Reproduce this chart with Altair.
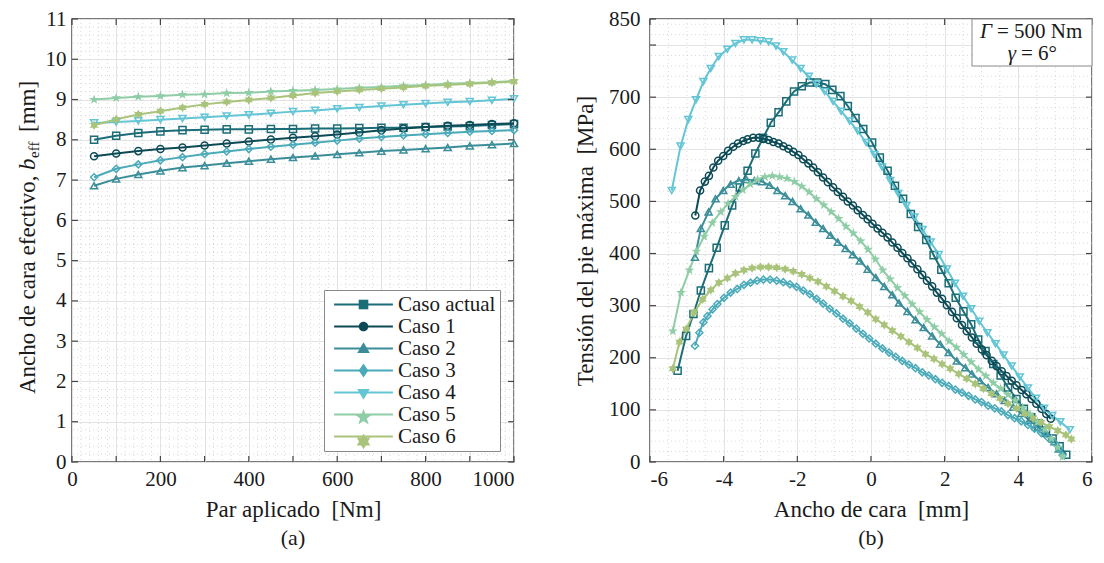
import altair as alt
import pandas as pd

FONT = "Liberation Serif"
FS = 21        # tick labels
FT = 23        # axis titles
FL = 21        # legend labels
FC = 22        # captions
TXT = "#1a1a1a"

CASES = ["Caso actual", "Caso 1", "Caso 2", "Caso 3", "Caso 4", "Caso 5", "Caso 6"]
COLORS = ["#1b6d78", "#0c4b56", "#3b8e99", "#4aaab9", "#63c5d5", "#8ecda6", "#a9c47a"]

# ---------------- panel (a) data ----------------
par = [50, 100, 150, 200, 250, 300, 350, 400, 450, 500, 550, 600, 650, 700, 750, 800, 850, 900, 950, 1000]
beff_actual = [8.00, 8.10, 8.17, 8.21, 8.24, 8.25, 8.26, 8.26, 8.27, 8.27, 8.28, 8.28, 8.29, 8.30, 8.30, 8.32, 8.33, 8.34, 8.37, 8.39]
beff_c1 = [7.59, 7.66, 7.72, 7.77, 7.81, 7.86, 7.91, 7.96, 8.01, 8.05, 8.09, 8.13, 8.18, 8.24, 8.28, 8.32, 8.35, 8.37, 8.39, 8.41]
beff_c2 = [6.86, 7.03, 7.14, 7.23, 7.31, 7.36, 7.42, 7.47, 7.52, 7.56, 7.60, 7.64, 7.68, 7.72, 7.75, 7.78, 7.81, 7.85, 7.88, 7.91]
beff_c3 = [7.07, 7.28, 7.39, 7.49, 7.57, 7.65, 7.71, 7.77, 7.83, 7.88, 7.93, 7.98, 8.03, 8.07, 8.11, 8.14, 8.17, 8.20, 8.22, 8.24]
beff_c4 = [8.42, 8.44, 8.47, 8.50, 8.53, 8.56, 8.59, 8.62, 8.66, 8.70, 8.73, 8.77, 8.80, 8.84, 8.87, 8.90, 8.93, 8.95, 8.98, 9.02]
beff_c5 = [9.00, 9.04, 9.07, 9.09, 9.12, 9.13, 9.16, 9.17, 9.20, 9.22, 9.24, 9.26, 9.29, 9.31, 9.34, 9.36, 9.39, 9.41, 9.43, 9.46]
beff_c6 = [8.36, 8.51, 8.63, 8.71, 8.80, 8.88, 8.94, 8.99, 9.04, 9.10, 9.16, 9.20, 9.24, 9.27, 9.30, 9.34, 9.36, 9.39, 9.42, 9.45]

# ---------------- panel (b) data ----------------
ancho_actual = [-5.25, -5.02, -4.82, -4.62, -4.40, -4.19, -3.97, -3.77, -3.56, -3.35, -3.14, -2.93, -2.72, -2.51, -2.30,
                -2.09, -1.88, -1.66, -1.46, -1.24, -1.05, -0.83, -0.63, -0.42, -0.21, 0.03, 0.24, 0.45, 0.65, 0.87,
                1.08, 1.28, 1.50, 1.70, 1.91, 2.11, 2.30, 2.51, 2.72, 2.91, 3.11, 3.32, 3.52, 3.72, 3.95,
                4.15, 4.35, 4.55, 4.75, 4.93, 5.12, 5.30]
sigma_actual = [175, 242, 284, 329, 372, 411, 454, 492, 527, 559, 592, 622, 651, 671, 692,
                711, 721, 728, 728, 725, 714, 702, 683, 660, 639, 613, 584, 559, 530, 505,
                476, 451, 426, 397, 369, 343, 315, 289, 264, 235, 213, 188, 166, 143, 121,
                102, 86, 74, 60, 45, 30, 14]

ancho_c1 = [-4.77, -4.64, -4.51, -4.40, -4.28, -4.15, -4.01, -3.88, -3.74, -3.61, -3.47, -3.35, -3.20, -3.05, -2.92,
            -2.78, -2.65, -2.51, -2.38, -2.24, -2.11, -1.97, -1.84, -1.70, -1.57, -1.44, -1.30, -1.17, -1.03, -0.90,
            -0.76, -0.63, -0.49, -0.36, -0.22, -0.09, 0.04, 0.18, 0.31, 0.45, 0.58, 0.72, 0.85, 0.99, 1.12,
            1.26, 1.39, 1.52, 1.66, 1.79, 1.93, 2.06, 2.20, 2.33, 2.47, 2.60, 2.74, 2.87, 3.01, 3.14,
            3.28, 3.41, 3.55, 3.68, 3.82, 3.95, 4.09, 4.22, 4.36, 4.49, 4.63, 4.76, 4.88]
sigma_c1 = [473, 521, 538, 549, 565, 578, 587, 597, 605, 611, 616, 619, 622, 622, 620,
            618, 614, 611, 606, 601, 595, 589, 581, 573, 565, 556, 546, 537, 527, 518,
            509, 500, 492, 483, 474, 466, 457, 448, 440, 431, 421, 411, 401, 391, 381,
            370, 359, 348, 337, 325, 313, 301, 288, 276, 263, 251, 239, 227, 216, 205,
            194, 184, 174, 165, 156, 147, 138, 130, 121, 112, 102, 92, 83]

ancho_c2 = [-4.78, -4.62, -4.41, -4.22, -4.01, -3.81, -3.59, -3.38, -3.17, -2.96, -2.75, -2.54, -2.33, -2.13, -1.91,
            -1.70, -1.50, -1.30, -1.10, -0.90, -0.69, -0.49, -0.30, -0.09, 0.13, 0.36, 0.58, 0.76, 0.99, 1.21,
            1.43, 1.66, 1.88, 2.11, 2.33, 2.56, 2.74, 2.96, 3.18, 3.41, 3.63, 3.86, 4.08, 4.30, 4.53,
            4.75, 4.98, 5.10]
sigma_c2 = [393, 448, 480, 505, 521, 533, 540, 542, 540, 538, 531, 521, 511, 500, 486,
            474, 460, 448, 435, 422, 410, 398, 386, 370, 354, 337, 321, 305, 289, 273,
            258, 242, 226, 210, 194, 181, 169, 156, 143, 131, 118, 105, 93, 80, 67,
            55, 39, 25]

ancho_c3 = [-4.78, -4.66, -4.55, -4.44, -4.30, -4.17, -3.99, -3.81, -3.63, -3.45, -3.27, -3.09, -2.92, -2.74, -2.56,
            -2.38, -2.20, -2.02, -1.84, -1.66, -1.48, -1.30, -1.12, -0.94, -0.76, -0.58, -0.40, -0.22, -0.05, 0.13,
            0.31, 0.49, 0.67, 0.85, 1.03, 1.21, 1.39, 1.57, 1.75, 1.93, 2.11, 2.29, 2.47, 2.65, 2.83,
            3.00, 3.18, 3.36, 3.54, 3.72, 3.90, 4.08, 4.26, 4.44, 4.62, 4.80, 4.98, 5.11, 5.20]
sigma_c3 = [223, 248, 268, 280, 293, 303, 315, 325, 332, 340, 344, 348, 350, 350, 348,
            345, 341, 336, 329, 322, 313, 304, 294, 285, 275, 266, 256, 246, 237, 227,
            218, 210, 202, 194, 187, 180, 172, 166, 159, 152, 146, 139, 133, 127, 120,
            115, 108, 103, 97, 90, 84, 78, 71, 64, 56, 47, 37, 25, 13]

ancho_c4 = [-5.41, -5.17, -4.96, -4.75, -4.55, -4.35, -4.13, -3.90, -3.68, -3.45, -3.23, -3.00, -2.78, -2.58, -2.38,
            -2.14, -1.91, -1.69, -1.48, -1.26, -1.03, -0.81, -0.58, -0.36, -0.13, 0.09, 0.30, 0.52, 0.74, 0.96,
            1.18, 1.40, 1.62, 1.84, 2.06, 2.28, 2.50, 2.72, 2.94, 3.16, 3.38, 3.60, 3.82, 4.04, 4.26,
            4.48, 4.70, 4.92, 5.14, 5.40]
sigma_c4 = [521, 606, 657, 695, 730, 755, 778, 792, 803, 810, 810, 808, 806, 798, 787,
            771, 755, 740, 725, 711, 692, 673, 654, 635, 613, 590, 566, 540, 515, 492,
            470, 446, 422, 398, 370, 343, 318, 294, 270, 248, 227, 205, 184, 163, 142,
            122, 103, 89, 77, 62]

ancho_c5 = [-5.38, -5.16, -4.93, -4.74, -4.53, -4.31, -4.08, -3.88, -3.68, -3.48, -3.28, -3.08, -2.88, -2.68, -2.48,
            -2.28, -2.08, -1.88, -1.68, -1.48, -1.28, -1.08, -0.88, -0.68, -0.48, -0.28, -0.08, 0.12, 0.32, 0.52,
            0.72, 0.92, 1.12, 1.32, 1.52, 1.72, 1.92, 2.12, 2.32, 2.52, 2.72, 2.92, 3.12, 3.32, 3.52,
            3.72, 3.92, 4.12, 4.32, 4.52, 4.72, 4.90, 5.07, 5.20]
sigma_c5 = [251, 325, 368, 404, 433, 459, 480, 496, 509, 522, 533, 542, 547, 549, 547,
            544, 538, 529, 518, 505, 493, 480, 467, 452, 439, 424, 408, 389, 368, 351,
            334, 319, 303, 288, 273, 259, 246, 232, 220, 206, 192, 178, 165, 152, 141,
            129, 118, 104, 92, 77, 63, 45, 28, 10]

ancho_c6 = [-5.38, -5.20, -5.02, -4.80, -4.57, -4.35, -4.13, -3.90, -3.68, -3.45, -3.23, -3.00, -2.78, -2.56, -2.33,
            -2.11, -1.88, -1.66, -1.44, -1.21, -0.99, -0.76, -0.54, -0.31, -0.09, 0.13, 0.36, 0.58, 0.81, 1.03,
            1.26, 1.48, 1.71, 1.93, 2.15, 2.38, 2.60, 2.83, 3.05, 3.27, 3.50, 3.72, 3.95, 4.17, 4.40,
            4.62, 4.84, 5.07, 5.29, 5.44]
sigma_c6 = [179, 230, 255, 287, 312, 330, 344, 353, 362, 368, 372, 374, 374, 373, 370,
            366, 360, 353, 346, 337, 328, 318, 309, 298, 287, 274, 263, 252, 241, 230,
            219, 207, 198, 188, 179, 169, 160, 150, 141, 131, 122, 112, 103, 93, 84,
            76, 68, 60, 52, 44]

# axis ticks / labels
a_xticks = [0, 100, 200, 300, 400, 500, 600, 700, 800, 900, 1000]
a_yticks = [0, 1, 2, 3, 4, 5, 6, 7, 8, 9, 10, 11]
b_xticks = [-6, -4, -2, 0, 2, 4, 6]
b_yticks = [0, 100, 200, 300, 400, 500, 600, 700, 800, 850]

W, H = 442, 443

# ---------------- shapes ----------------
PENTA = ("M0,-1.3L0.3,-0.42L1.24,-0.4L0.5,0.16L0.77,1.05L0,0.52L-0.77,1.05L-0.5,0.16"
         "L-1.24,-0.4L-0.3,-0.42Z")
HEXA = ("M0,-1.2L0.35,-0.6L1.04,-0.6L0.69,0L1.04,0.6L0.35,0.6L0,1.2L-0.35,0.6L-1.04,0.6"
        "L-0.69,0L-1.04,-0.6L-0.35,-0.6Z")
MARKERS = ["square", "circle", "triangle-up", "diamond", "triangle-down", PENTA, HEXA]
FILLED = [False, False, False, False, False, True, True]

LEG_LINE = "M-4.9,0H4.9"
LEG_MARKS = [
    "M-0.8,-0.8H0.8V0.8H-0.8Z",
    "M0.8,0A0.8,0.8,0,1,1,-0.8,0A0.8,0.8,0,1,1,0.8,0Z",
    "M0,-1.05L1.05,0.75H-1.05Z",
    "M0,-1.15L0.8,0L0,1.15L-0.8,0Z",
    "M0,1.05L1.05,-0.75H-1.05Z",
    "M0,-1.45L0.34,-0.47L1.38,-0.45L0.56,0.17L0.86,1.17L0,0.58L-0.86,1.17L-0.56,0.17L-1.38,-0.45L-0.34,-0.47Z",
    "M0,-1.3L0.38,-0.65L1.13,-0.65L0.75,0L1.13,0.65L0.38,0.65L0,1.3L-0.38,0.65L-1.13,0.65L-0.75,0L-1.13,-0.65L-0.38,-0.65Z",
]


def long_df(xs_list, ys_list):
    rows = []
    for name, xs, ys in zip(CASES, xs_list, ys_list):
        for i, (xv, yv) in enumerate(zip(xs, ys)):
            rows.append({"Caso": name, "x": xv, "y": yv, "i": i})
    return pd.DataFrame(rows)


df_a = long_df([par] * 7, [beff_actual, beff_c1, beff_c2, beff_c3, beff_c4, beff_c5, beff_c6])
df_b = long_df([ancho_actual, ancho_c1, ancho_c2, ancho_c3, ancho_c4, ancho_c5, ancho_c6],
               [sigma_actual, sigma_c1, sigma_c2, sigma_c3, sigma_c4, sigma_c5, sigma_c6])

one = pd.DataFrame({"k": [0]})

LEG_X, LEG_Y = 252, 271
leg_common = dict(orient="none", legendX=LEG_X, legendY=LEG_Y, title=None,
                  labelFont=FONT, labelFontSize=FL, labelColor=TXT, labelLimit=250,
                  symbolSize=144, symbolStrokeWidth=2, symbolOpacity=1,
                  padding=4, rowPadding=0, symbolOffset=25, labelOffset=24)


def panel(df, X, Y, xticks, yticks, minor_x, minor_y, extra=None, legend=False):
    grid_x = alt.Chart(pd.DataFrame({"x": minor_x})).mark_rule(
        color="#cfcfcf", strokeWidth=0.8, strokeDash=[1, 3]).encode(x=X)
    grid_y = alt.Chart(pd.DataFrame({"y": minor_y})).mark_rule(
        color="#cfcfcf", strokeWidth=0.8, strokeDash=[1, 3]).encode(y=Y)
    base = alt.Chart(df)
    if legend:
        line_legend = alt.Legend(symbolType=LEG_LINE, strokeColor="#8a8a8a", fillColor="white", **leg_common)
    else:
        line_legend = None
    lines = base.mark_line(strokeWidth=2).encode(
        x=X, y=Y,
        color=alt.Color("Caso:N", sort=CASES, scale=alt.Scale(range=COLORS), legend=line_legend),
        detail="Caso:N", order="i:Q")
    layers = [grid_x, grid_y, lines]
    for name, mk, col, fl in zip(CASES, MARKERS, COLORS, FILLED):
        if fl:
            m = base.transform_filter(alt.datum.Caso == name).mark_point(
                shape=mk, filled=True, color=col, size=62, opacity=1)
        else:
            m = base.transform_filter(alt.datum.Caso == name).mark_point(
                shape=mk, filled=False, color=col, size=50, strokeWidth=1.5, opacity=1)
        layers.append(m.encode(x=X, y=Y))
    tx = pd.DataFrame({"x": xticks})
    ty = pd.DataFrame({"y": yticks})
    tk = dict(color="#444", strokeWidth=1.2)
    layers += [
        alt.Chart(tx).mark_rule(**tk).encode(x=X, y=alt.value(H), y2=alt.value(H - 6)),
        alt.Chart(tx).mark_rule(**tk).encode(x=X, y=alt.value(0), y2=alt.value(6)),
        alt.Chart(ty).mark_rule(**tk).encode(y=Y, x=alt.value(0), x2=alt.value(6)),
        alt.Chart(ty).mark_rule(**tk).encode(y=Y, x=alt.value(W), x2=alt.value(W - 6)),
    ]
    if legend:
        mark_legend = alt.Legend(labelExpr="' '", **leg_common)
        dummy = base.mark_point(opacity=0, size=144, filled=True).encode(
            x=X, y=Y,
            shape=alt.Shape("Caso:N", scale=alt.Scale(domain=CASES, range=LEG_MARKS), legend=mark_legend),
            fill=alt.Fill("Caso:N", scale=alt.Scale(domain=CASES, range=COLORS), legend=mark_legend),
        )
        layers.append(dummy)
    if extra:
        layers += extra
    return alt.layer(*layers).properties(width=W, height=H)


axis_common = dict(labelFont=FONT, labelFontSize=FS, labelColor=TXT, titleFont=FONT, titleFontSize=FT,
                   titleFontWeight="normal", titleColor=TXT, ticks=False, domain=False,
                   grid=True, gridColor="#e3e3e3", gridWidth=1)

# ---------- panel (a) ----------
Xa = alt.X("x:Q", scale=alt.Scale(domain=[0, 1000], nice=False, zero=False),
           axis=alt.Axis(values=a_xticks, labelPadding=6, titlePadding=9,
                         labelExpr="datum.value % 200 == 0 ? format(datum.value, 'd') : ''",
                         labelAlign=alt.ExprRef("datum.value == 1000 ? 'right' : 'center'"),
                         title="Par aplicado\u00a0 [Nm]", **axis_common))
Ya = alt.Y("y:Q", scale=alt.Scale(domain=[0, 11], nice=False, zero=False),
           axis=alt.Axis(values=a_yticks, labelPadding=6, title=None, **axis_common))

minor_a_x = [v for v in range(20, 1000, 20) if v % 100]
minor_a_y = [round(i * 0.2, 1) for i in range(1, 55) if i % 5]

ytitle_a = [
    alt.Chart(one).mark_text(text="Ancho de cara efectivo,", font=FONT, fontSize=FT, color=TXT,
                             angle=270, align="left", baseline="alphabetic").encode(
        x=alt.value(-37), y=alt.value(375)),
    alt.Chart(one).mark_text(text="b", font=FONT, fontSize=FT, fontStyle="italic", color=TXT,
                             angle=270, align="left", baseline="alphabetic").encode(
        x=alt.value(-37), y=alt.value(151)),
    alt.Chart(one).mark_text(text="eff", font=FONT, fontSize=15, color=TXT,
                             angle=270, align="left", baseline="alphabetic").encode(
        x=alt.value(-33), y=alt.value(139)),
    alt.Chart(one).mark_text(text="[mm]", font=FONT, fontSize=FT, color=TXT,
                             angle=270, align="left", baseline="alphabetic").encode(
        x=alt.value(-37), y=alt.value(113)),
]

chart_a = panel(df_a, Xa, Ya, a_xticks, a_yticks, minor_a_x, minor_a_y, extra=ytitle_a, legend=True).properties(
    title=alt.TitleParams("(a)", orient="bottom", font=FONT, fontSize=FC, fontWeight="normal",
                          color=TXT, offset=7))

# ---------- panel (b) ----------
Xb = alt.X("x:Q", scale=alt.Scale(domain=[-6, 6], nice=False, zero=False),
           axis=alt.Axis(values=b_xticks, labelPadding=6, titlePadding=9,
                         labelExpr="datum.value < 0 ? '-' + format(-datum.value, 'd') : format(datum.value, 'd')",
                         title="Ancho de cara\u00a0 [mm]", **axis_common))
Yb = alt.Y("y:Q", scale=alt.Scale(domain=[0, 850], nice=False, zero=False),
           axis=alt.Axis(values=b_yticks, labelPadding=10, titlePadding=11,
                         labelExpr="datum.value == 800 ? '' : format(datum.value, 'd')",
                         title="Tensión del pie máxima\u00a0 [MPa]", **axis_common))

minor_b_x = [k * 0.5 for k in range(-11, 12) if k % 4]
minor_b_y = [v for v in range(20, 850, 20) if v % 100]

annot_b = [
    alt.Chart(one).mark_rect(fill="white", stroke="#8a8a8a", strokeWidth=1).encode(
        x=alt.value(322), x2=alt.value(W), y=alt.value(0), y2=alt.value(47)),
    alt.Chart(one).mark_text(text="Γ", font=FONT, fontSize=FS, fontStyle="italic", color=TXT,
                             align="right", baseline="middle").encode(x=alt.value(342), y=alt.value(12.5)),
    alt.Chart(one).mark_text(text="= 500 Nm", font=FONT, fontSize=FS, color=TXT,
                             align="left", baseline="middle").encode(x=alt.value(347), y=alt.value(12.5)),
    alt.Chart(one).mark_text(text="γ", font=FONT, fontSize=FS, fontStyle="italic", color=TXT,
                             align="right", baseline="middle").encode(x=alt.value(366), y=alt.value(34.5)),
    alt.Chart(one).mark_text(text="= 6°", font=FONT, fontSize=FS, color=TXT,
                             align="left", baseline="middle").encode(x=alt.value(371), y=alt.value(34.5)),
]

chart_b = panel(df_b, Xb, Yb, b_xticks, b_yticks, minor_b_x, minor_b_y, extra=annot_b).properties(
    title=alt.TitleParams("(b)", orient="bottom", font=FONT, fontSize=FC, fontWeight="normal",
                          color=TXT, offset=7))

chart = alt.hconcat(chart_a, chart_b, spacing=49).properties(
    padding={"left": 8, "top": -1, "right": 0, "bottom": 0}
).configure(
    font=FONT, background="white",
    view=alt.ViewConfig(stroke="#4d4d4d", strokeWidth=1.5),
    axis=alt.AxisConfig(labelFont=FONT, titleFont=FONT),
    legend=alt.LegendConfig(labelFont=FONT),
)

chart.save("out.html", embed_options={"renderer": "svg", "actions": False})
